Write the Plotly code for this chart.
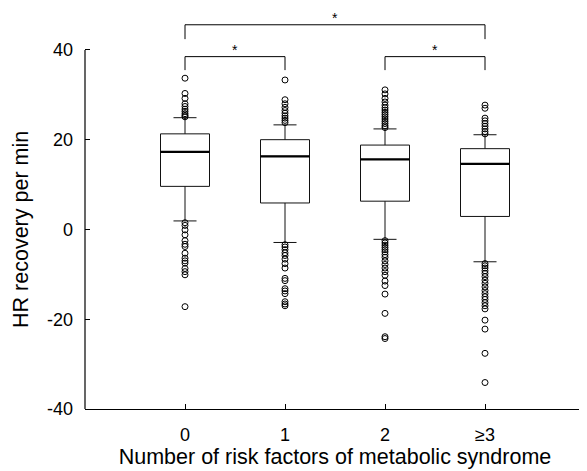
import plotly.graph_objects as go

categories = ["0", "1", "2", "≥3"]
q1 = [9.6, 5.9, 6.3, 2.9]
median = [17.3, 16.3, 15.6, 14.6]
q3 = [21.3, 20.0, 18.8, 18.0]
lower_whisker = [1.9, -2.9, -2.2, -7.2]
upper_whisker = [24.9, 23.3, 22.4, 21.1]

outliers = {
    "0": [33.7, 30.3, 29.2, 28.0, 27.4, 26.8, 26.3, 25.8, 25.4, 25.1,
          1.5, 0.9, -0.1, -1.2, -2.5, -3.3, -3.8, -5.3, -6.4, -7.0, -7.5,
          -8.7, -9.4, -10.1, -17.2],
    "1": [33.3, 28.9, 28.0, 27.2, 26.5, 25.9, 25.3, 24.8, 24.3, 23.8,
          -3.4, -3.9, -4.5, -5.2, -5.8, -6.6, -7.6, -8.6, -10.9, -11.4,
          -13.2, -13.7, -14.3, -16.1, -16.6, -17.0],
    "2": [31.1, 30.2, 29.2, 28.4, 27.7, 27.1, 26.6, 26.1, 25.6, 25.1,
          24.6, 24.1, 23.6, 23.1, 22.7,
          -2.5, -3.0, -3.5, -4.0, -4.5, -5.0, -5.6, -6.2, -7.0, -7.8,
          -8.6, -9.4, -10.2, -11.5, -12.5, -14.4, -18.7, -23.9, -24.3],
    "≥3": [27.7, 27.0, 24.8, 24.2, 23.6, 23.0, 22.4, 21.8, 21.3,
           -7.6, -8.1, -8.6, -9.2, -9.8, -10.5, -11.3, -12.0, -12.8, -13.6,
           -14.3, -15.0, -15.6, -16.3, -17.0, -17.7, -20.2, -22.2, -27.6, -34.1],
}

# significance brackets: (from, to, bar height, leg end)
brackets = [("0", "1", 38.5, 35.5), ("2", "≥3", 38.5, 35.5), ("0", "≥3", 45.6, 42.4)]
star_positions = [(0.5, 39.9), (2.5, 39.9), (1.5, 47.0)]

y_ticks = [-40, -20, 0, 20, 40]
y_min, y_max = -40, 40

FONT = "Arial, 'Liberation Sans', sans-serif"

fig = go.Figure()

fig.add_trace(go.Box(
    x=categories, q1=q1, median=median, q3=q3,
    lowerfence=lower_whisker, upperfence=upper_whisker,
    boxpoints=False, width=0.49, whiskerwidth=0.47,
    fillcolor="white", line=dict(color="#111111", width=1),
    showlegend=False, hoverinfo="skip",
))

# thicker median lines
fig.add_trace(go.Scatter(
    x=categories, y=median, mode="markers",
    marker=dict(symbol="line-ew", size=35, line=dict(color="black", width=2.2)),
    showlegend=False, hoverinfo="skip",
))

ox, oy = [], []
for c in categories:
    for v in outliers[c]:
        ox.append(c)
        oy.append(v)
fig.add_trace(go.Scatter(
    x=ox, y=oy, mode="markers",
    marker=dict(symbol="circle-open", size=6, color="black", line=dict(width=1)),
    showlegend=False, hoverinfo="skip",
))

for a, b, h, leg in brackets:
    fig.add_trace(go.Scatter(
        x=[a, a, b, b], y=[leg, h, h, leg], mode="lines",
        line=dict(color="black", width=1), showlegend=False, hoverinfo="skip",
    ))

for sx, sy in star_positions:
    fig.add_annotation(x=sx, y=sy, xref="x", yref="y", text="*", showarrow=False,
                       font=dict(family=FONT, size=14, color="black"),
                       xanchor="center", yanchor="middle")

# y axis line only between -40 and 40
fig.add_shape(type="line", xref="paper", yref="y", x0=0, x1=0, y0=y_min, y1=y_max,
              line=dict(color="black", width=1.2))

fig.add_annotation(x=-0.127, y=0, xref="paper", yref="y", text="HR recovery per min",
                   showarrow=False, textangle=-90,
                   font=dict(family=FONT, size=21.5, color="black"),
                   xanchor="center", yanchor="middle")

fig.update_layout(
    width=579, height=463,
    margin=dict(l=77, r=2, t=6, b=62),
    plot_bgcolor="white", paper_bgcolor="white",
    font=dict(family=FONT, color="black"),
    xaxis=dict(
        type="category", categoryorder="array", categoryarray=categories,
        range=[-1, 4], showgrid=False, zeroline=False,
        showline=True, linecolor="black", linewidth=1.2,
        ticks="inside", ticklen=5, tickcolor="black",
        tickfont=dict(family=FONT, size=18),
        ticklabelstandoff=9,
        title=dict(text="Number of risk factors of metabolic syndrome",
                   font=dict(family=FONT, size=21.5), standoff=4),
    ),
    yaxis=dict(
        range=[y_min, 48], tickvals=y_ticks, ticktext=[str(t) for t in y_ticks],
        showgrid=False, zeroline=False, showline=False,
        ticks="inside", ticklen=5, tickcolor="black",
        tickfont=dict(family=FONT, size=18),
        ticklabelstandoff=11,
    ),
)

fig.write_html("out.html")
